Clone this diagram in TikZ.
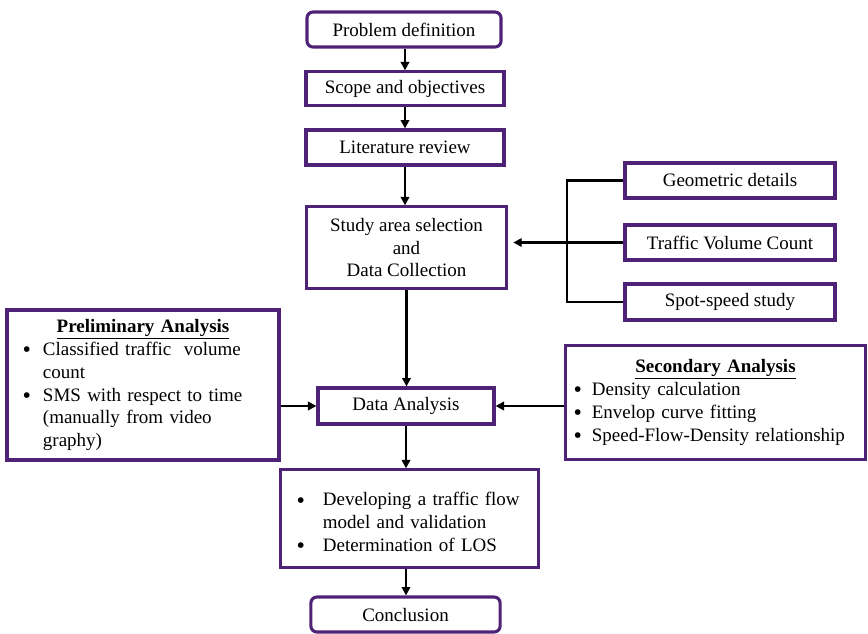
\documentclass[tikz,border=0pt]{standalone}
\usepackage{fontspec}
\setmainfont{Liberation Serif}
\usepackage{enumitem}
\usepackage{tikz}
\usetikzlibrary{positioning, arrows.meta}
\definecolor{boxpurple}{RGB}{78,34,118}
\newcommand{\bigbul}{\raisebox{-0.25ex}{\fontsize{17pt}{16pt}\selectfont\textbullet}}

\begin{document}
\begin{tikzpicture}[
    x=0.025cm, y=-0.025cm,
    font=\fontsize{13.5pt}{16.3pt}\selectfont,
    block/.style={draw=boxpurple, line width=2.2pt, minimum height=0.875cm, inner xsep=0.25cm, align=center},
    endblock/.style={block, rounded corners=0.15cm},
    listblock/.style={block, align=left, inner ysep=0.1cm},
    arrow/.style={-{Triangle[length=6pt,width=6pt]}, line width=1.5pt},
    link/.style={line width=1.6pt}
]
\useasboundingbox (0,0) rectangle (868,633);

% Main column
\node[endblock, minimum width=4.85cm] (prob) at (404,29.5) {Problem definition};
\node[block, minimum width=4.95cm, minimum height=0.83cm] (scope) at (405,88.5) {Scope and objectives};
\node[block, minimum width=4.95cm] (lit) at (405,147.5) {Literature review};
\node[block, minimum width=4.98cm, minimum height=2.03cm] (study) at (406.5,247.5) {Study area selection\\and\\Data Collection};
\node[block, minimum width=4.4cm, minimum height=0.9cm] (data) at (406,406) {Data Analysis};
\node[listblock, minimum width=6.43cm, minimum height=2.43cm, text width=5.93cm] (devel) at (409.5,518.5) {%
\begin{itemize}[nosep, label=\bigbul, leftmargin=0.8cm, labelsep=0.45cm]
\item Developing a traffic flow\newline model and validation
\item Determination of LOS
\end{itemize}};
\node[endblock, minimum width=4.73cm] (concl) at (405.5,614.5) {Conclusion};

% Data collection inputs
\node[block, minimum width=5.25cm] (geo) at (730,180.5) {Geometric details};
\node[block, minimum width=5.25cm] (tvc) at (730,242.5) {Traffic Volume Count};
\node[block, minimum width=5.25cm, minimum height=0.9cm] (spot) at (730,302) {Spot-speed study};
\coordinate (bus) at (567,242.5);

% Analysis boxes
\node[listblock, minimum width=6.8cm, minimum height=3.75cm, text width=6.3cm] (prelim) at (143,385) {%
{\centering\underline{\textbf{Preliminary Analysis}}\par}
\begin{itemize}[nosep, label=\bigbul, leftmargin=0.65cm, labelsep=0.3cm]
\item Classified traffic\ \ volume\newline count
\item SMS with respect to time\newline (manually from video\newline graphy)
\end{itemize}};
\node[listblock, minimum width=7.48cm, minimum height=2.83cm, text width=6.98cm] (second) at (715.5,402.5) {%
{\centering\underline{\textbf{Secondary Analysis}}\par}
\begin{itemize}[nosep, label=\bigbul, leftmargin=0.4cm, labelsep=0.25cm]
\item Density calculation
\item Envelop curve fitting
\item Speed-Flow-Density relationship
\end{itemize}};

% Connections
\draw[arrow] (prob.south -| scope.north) -- (scope.north);
\draw[arrow] (scope) -- (lit);
\draw[arrow] (lit.south) -- (lit.south |- study.north);
\draw[arrow] (study.south) -- (study.south |- data.north);
\draw[arrow] (data.south) -- (data.south |- devel.north);
\draw[arrow] (data.south |- devel.south) -- (data.south |- concl.north);

\draw[link] (geo.west) -| (bus) |- (spot.west);
\draw[arrow, shorten >=4pt] (tvc.west) -- (study.east |- tvc.west);

\draw[arrow] (prelim.east |- data.west) -- (data.west);
\draw[arrow] (second.west |- data.east) -- (data.east);

\end{tikzpicture}
\end{document}
